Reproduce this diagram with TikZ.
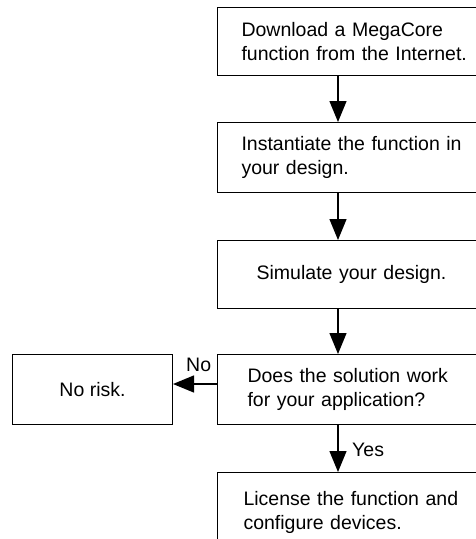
\documentclass[tikz,border=0pt]{standalone}
\usepackage{fontspec}
\setmainfont{Liberation Sans}
\usetikzlibrary{arrows.meta}
\begin{document}
\begin{tikzpicture}[x=1pt,y=-1pt,
  every node/.style={font=\fontsize{19.5}{23.5}\selectfont},
  box/.style={draw, line width=1pt, rectangle, anchor=north west, inner xsep=24pt, inner ysep=0pt, text width=232pt, align=left},
  arr/.style={line width=1.3pt, -{Triangle[width=17pt,length=21pt]}},
  lbl/.style={inner sep=0pt, anchor=base west}]
\useasboundingbox (0,0) rectangle (475,539);
\coordinate (ax) at (338,0);
\coordinate (hy) at (0,384);
\node[box, minimum height=68pt] (b1) at (217,7) {Download a MegaCore\\function from the Internet.};
\node[box, minimum height=70pt] (b2) at (217,122) {Instantiate the function in\\your design.};
\node[box, minimum height=68pt, text width=220pt, align=center] (b3) at (217,240) {Simulate your design.};
\node[box, minimum height=70pt] (b4) at (217,354) {\hspace*{6pt}Does the solution work\\\hspace*{6pt}for your application?};
\node[box, minimum height=80pt] (b5) at (217,472) {\hspace*{2pt}License the function and\\\hspace*{2pt}configure devices.};
\node[draw, line width=1pt, rectangle, anchor=north west, minimum width=160pt, minimum height=70pt, inner sep=0pt] (nr) at (12,354) {No risk.};
\draw[arr] (ax |- b1.south) -- (ax |- b2.north);
\draw[arr] (ax |- b2.south) -- (ax |- b3.north);
\draw[arr] (ax |- b3.south) -- (ax |- b4.north);
\draw[arr] (ax |- b4.south) -- (ax |- b5.north);
\draw[arr] (b4.west |- hy) -- (nr.east |- hy);
\node[lbl] (no) at (186,371) {No};
\node[lbl] (yes) at (352,456) {Yes};
\end{tikzpicture}
\end{document}
